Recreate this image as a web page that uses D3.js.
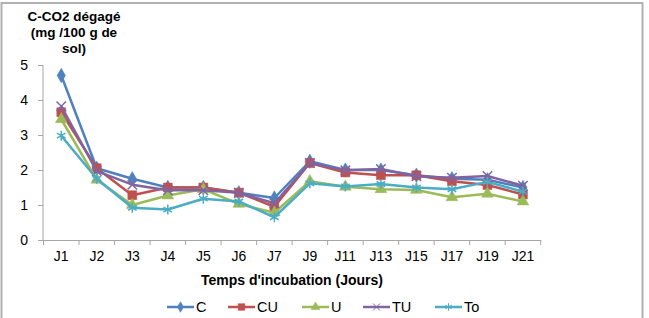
<!DOCTYPE html>
<html>
<head>
<meta charset="utf-8">
<script src="https://cdn.jsdelivr.net/npm/d3@7/dist/d3.min.js"></script>
<style>
  body { margin: 0; background: white; }
  svg { font-family: "Liberation Sans", Arial, sans-serif; }
</style>
</head>
<body>
<script>
// categories (jours d'incubation)
var days = ['J1','J2','J3','J4','J5','J6','J7','J9','J11','J13','J15','J17','J19','J21']

// C-CO2 dégagé (mg /100 g de sol), par traitement
var valC  = [4.70, 2.05, 1.75, 1.50, 1.50, 1.35, 1.20, 2.25, 2.00, 2.00, 1.85, 1.75, 1.72, 1.50]
var valCU = [3.65, 2.05, 1.28, 1.50, 1.50, 1.35, 0.95, 2.20, 1.93, 1.85, 1.85, 1.68, 1.57, 1.30]
var valU  = [3.45, 1.72, 1.00, 1.27, 1.45, 1.03, 0.78, 1.68, 1.52, 1.45, 1.43, 1.22, 1.32, 1.10]
var valTU = [3.82, 1.97, 1.58, 1.42, 1.42, 1.35, 1.05, 2.20, 1.99, 2.03, 1.82, 1.78, 1.83, 1.55]
var valTo = [2.98, 1.75, 0.92, 0.87, 1.18, 1.10, 0.65, 1.62, 1.53, 1.60, 1.50, 1.45, 1.66, 1.38]

var yTicks = [0, 1, 2, 3, 4, 5]

var series = [
  {name: 'C',  values: valC,  color: '#4F81BD', symbol: 'diamond'},
  {name: 'CU', values: valCU, color: '#C0504D', symbol: 'square'},
  {name: 'U',  values: valU,  color: '#9BBB59', symbol: 'triangle'},
  {name: 'TU', values: valTU, color: '#8064A2', symbol: 'cross'},
  {name: 'To', values: valTo, color: '#4BACC6', symbol: 'star'}
]

var width = 649, height = 318

var svg = d3.select('body').append('svg')
  .attr('width', width)
  .attr('height', height)

// frame
svg.append('rect')
  .attr('x', 1.5).attr('y', 3)
  .attr('width', 641).attr('height', 330)
  .attr('fill', 'none')
  .attr('stroke', '#b0b0b0')
  .attr('stroke-width', 2)

var x = d3.scaleBand()
  .domain(days)
  .range([43.5, 540.7])

var y = d3.scaleLinear()
  .domain([0, 5])
  .range([240, 65])

// y axis
var yAxis = svg.append('g')
  .attr('transform', 'translate(43,0)')
  .call(d3.axisLeft(y).tickValues(yTicks).tickSize(5).tickPadding(10).tickFormat(d3.format('d')))
yAxis.select('.domain').attr('stroke', '#a6a6a6').attr('d', 'M0,' + y(5) + 'V' + y(0))
yAxis.selectAll('.tick line').attr('stroke', '#a6a6a6')
yAxis.selectAll('.tick text')
  .attr('font-size', 14)
  .attr('font-family', '"Liberation Sans", Arial, sans-serif')
  .attr('fill', '#000')

// x axis
var xAxis = svg.append('g')
  .attr('transform', 'translate(0,240)')
  .call(d3.axisBottom(x).tickSize(0).tickPadding(11))
xAxis.select('.domain').attr('stroke', '#a6a6a6')
xAxis.selectAll('.tick text')
  .attr('font-size', 14)
  .attr('font-family', '"Liberation Sans", Arial, sans-serif')
  .attr('fill', '#000')
// tick marks between categories
var bounds = days.map(d => x(d)).concat([x.range()[1]])
xAxis.selectAll('.sep')
  .data(bounds)
  .enter()
  .append('line')
    .attr('class', 'sep')
    .attr('x1', d => d).attr('x2', d => d)
    .attr('y1', 0).attr('y2', 5)
    .attr('stroke', '#a6a6a6')

// lines
var line = d3.line()
  .x((d, i) => x(days[i]) + x.bandwidth() / 2)
  .y(d => y(d))

var symbolType = {
  diamond: d3.symbolDiamond,
  square: d3.symbolSquare,
  triangle: d3.symbolTriangle,
  cross: d3.symbolTimes,
  star: d3.symbolAsterisk
}
var symbolSize = {diamond: 60, square: 80, triangle: 60, cross: 60, star: 70}

function drawMarker(g, s, cx, cy, scale) {
  var p = g.append('path')
    .attr('d', d3.symbol().type(symbolType[s.symbol]).size(symbolSize[s.symbol] * scale)())
    .attr('transform', 'translate(' + cx + ',' + cy + ')')
  if (s.symbol == 'cross' || s.symbol == 'star') {
    p.attr('fill', 'none').attr('stroke', s.color).attr('stroke-width', scale < 1 ? 1 : 1.5)
  } else {
    p.attr('fill', s.color).attr('stroke', s.color).attr('stroke-width', 0.5)
  }
}

series.forEach(function(s) {
  var g = svg.append('g')
  g.append('path')
    .datum(s.values)
    .attr('d', line)
    .attr('fill', 'none')
    .attr('stroke', s.color)
    .attr('stroke-width', 2.5)
    .attr('stroke-linejoin', 'round')
  s.values.forEach(function(v, i) {
    drawMarker(g, s, x(days[i]) + x.bandwidth() / 2, y(v), 1)
  })
})

// axis titles
var yTitle = svg.append('text')
  .attr('text-anchor', 'middle')
  .attr('font-weight', 'bold')
  .attr('font-size', 13.5)
;['C-CO2 dégagé', '(mg /100 g de', 'sol)'].forEach(function(t, i) {
  yTitle.append('tspan')
    .attr('x', 74)
    .attr('y', 21 + i * 16)
    .text(t)
})

svg.append('text')
  .attr('x', 292)
  .attr('y', 285)
  .attr('text-anchor', 'middle')
  .attr('font-weight', 'bold')
  .attr('font-size', 14)
  .text("Temps d'incubation (Jours)")

// legend
var legendX = [167, 228, 302, 363, 435]
series.forEach(function(s, i) {
  var g = svg.append('g')
  var lx = legendX[i], ly = 307
  g.append('line')
    .attr('x1', lx).attr('x2', lx + 27)
    .attr('y1', ly).attr('y2', ly)
    .attr('stroke', s.color)
    .attr('stroke-width', 2.5)
  drawMarker(g, s, lx + 13.5, ly, 0.55)
  g.append('text')
    .attr('x', lx + 29)
    .attr('y', ly + 5)
    .attr('font-size', 14.5)
    .text(s.name)
})
</script>
</body>
</html>
